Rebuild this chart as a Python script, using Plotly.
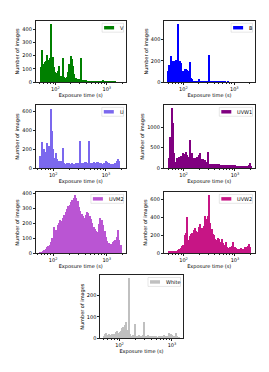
import numpy as np
import plotly.graph_objects as go

# ---------------- data ----------------
BIN_DEX = 0.025  # width of each log10 exposure-time bin

filter_names = ["V", "B", "U", "UVW1", "UVM2", "UVW2", "White"]
bar_colors = ["#008000", "#0000ff", "#7b68ee", "#800080", "#ba55d3", "#c71585", "#c0c0c0"]
log_start = [1.70, 1.69, 1.735, 1.70, 1.74, 1.70, 1.69]  # log10(s) of first bin edge

counts_v = [115, 240, 140, 150, 160, 205, 170, 180, 440, 190, 115, 75, 70, 85, 120, 50,
            45, 185, 40, 35, 38, 75, 140, 200, 175, 125, 60, 33, 28, 25, 22, 180, 18,
            15, 14, 20, 12, 13, 11, 12, 10, 12, 10, 11, 9, 10, 8, 9, 20, 7, 6,
            5, 6, 4, 5, 5, 3, 4, 3, 2, 2, 1, 2, 1]
counts_b = [110, 160, 250, 150, 200, 205, 210, 200, 550, 200, 180, 100, 110, 130, 125, 120,
            110, 190, 45, 30, 15, 15, 12, 14, 30, 12, 10, 11, 9, 8, 9, 10, 256, 8, 7,
            8, 6, 7, 5, 6, 5, 6, 4, 5, 4, 4, 3, 4, 3, 3, 2, 3, 2, 2, 3, 2, 2, 1, 2, 1, 2,
            1, 2, 1, 1, 1, 1]
counts_u = [130, 280, 165, 200, 170, 270, 220, 235, 632, 390, 200, 113, 165, 100, 78, 75,
            80, 220, 55, 50, 52, 48, 55, 50, 52, 48, 50, 55, 50, 52, 285, 55, 60, 58, 62,
            70, 60, 290, 58, 55, 60, 62, 58, 65, 70, 60, 55, 50, 55, 60, 75, 70, 55, 50,
            45, 48, 40, 55, 78, 100, 80]
counts_uvw1 = [245, 770, 1470, 1100, 365, 160, 245, 260, 285, 300, 290, 365, 340, 390, 320,
               285, 700, 300, 365, 245, 250, 240, 285, 320, 365, 230, 220, 210, 215, 160,
               410, 110, 105, 100, 110, 105, 100, 110, 95, 100, 90, 85, 80, 85, 80, 75, 80,
               85, 75, 80, 70, 75, 60, 55, 60, 55, 50, 55, 60, 50, 55, 60, 80, 140, 60]
counts_uvm2 = [7, 12, 15, 22, 30, 42, 48, 55, 75, 100, 175, 150, 160, 190, 205, 222, 215,
               235, 255, 275, 300, 315, 325, 345, 360, 375, 392, 370, 350, 310, 285, 265,
               250, 240, 260, 278, 270, 250, 230, 205, 180, 165, 150, 145, 200, 240, 225,
               190, 150, 110, 85, 70, 55, 65, 75, 85, 90, 110, 155, 90, 55]
counts_uvw2 = [22, 28, 25, 30, 25, 28, 30, 35, 52, 55, 85, 95, 200, 230, 410, 145, 190, 215,
               225, 255, 280, 250, 235, 290, 330, 280, 285, 310, 420, 380, 415, 650, 340,
               270, 220, 200, 165, 145, 175, 160, 125, 165, 110, 90, 125, 70, 60, 75, 70,
               80, 130, 75, 55, 50, 52, 48, 55, 50, 45, 70, 75, 85, 107, 70]
counts_white = [12, 18, 24, 15, 18, 14, 20, 16, 22, 28, 32, 25, 28, 36, 50, 55, 62, 76, 40,
                279, 20, 12, 14, 10, 65, 12, 10, 14, 12, 10, 15, 76, 12, 10, 14, 12, 9, 11,
                10, 12, 9, 8, 10, 12, 9, 10, 14, 12, 10, 12, 24, 20, 14, 12, 10, 26, 12, 8]

all_counts = [counts_v, counts_b, counts_u, counts_uvw1, counts_uvm2, counts_uvw2, counts_white]

y_tick_values = [[0, 100, 200, 300, 400], [0, 200, 400], [0, 200, 400, 600], [0, 500, 1000],
                 [0, 100, 200, 300, 400], [0, 200, 400, 600], [0, 100, 200]]
y_max = [462, 578, 670, 1545, 412, 684, 295]
x_tick_values = [100, 1000]
x_tick_text = ["10<sup>2</sup>", "10<sup>3</sup>"]
x_log_range = [(1.613, 3.374), (1.618, 3.408), (1.665, 3.38), (1.61, 3.39),
               (1.67, 3.36), (1.61, 3.39), (1.627, 3.21)]

# ---------------- layout geometry (pixels) ----------------
W, H = 269, 372
panel_px = [(35.5, 126, 20, 82), (164, 255, 20, 82), (35.5, 126, 105, 169),
            (163.5, 255, 105, 169), (35.5, 126, 193, 255), (163.5, 255, 193, 255),
            (100, 183, 277, 341)]
label_w = [3.4, 3.4, 3.7, 15.2, 14.6, 15.2, 14.5]

FONT = "DejaVu Sans"
FS = 5

minor_vals = [v * 10 ** e for e in (1, 2, 3) for v in range(2, 10)]

fig = go.Figure()
layout = {}
shapes = []
annotations = []

for k in range(7):
    sfx = "" if k == 0 else str(k + 1)
    xa, ya = "x" + sfx, "y" + sfx
    edges = 10 ** (log_start[k] + BIN_DEX * np.arange(len(all_counts[k]) + 1))
    centers = (edges[:-1] + edges[1:]) / 2
    widths = np.diff(edges)
    fig.add_trace(go.Bar(x=centers, y=all_counts[k], width=widths, name=filter_names[k],
                         marker=dict(color=bar_colors[k], line=dict(width=0)),
                         xaxis=xa, yaxis=ya, showlegend=False))
    x0, x1, t, b = panel_px[k]
    axis_common = dict(showline=True, mirror=True, linecolor="#222", linewidth=0.6,
                       showgrid=False, zeroline=False, ticks="outside", ticklen=1.8,
                       tickwidth=0.5, tickcolor="#222",
                       tickfont=dict(family=FONT, size=FS, color="black"))
    layout["xaxis" + sfx] = dict(
        axis_common, domain=[x0 / W, x1 / W], anchor=ya, type="log",
        range=list(x_log_range[k]), tickmode="array", tickvals=x_tick_values,
        ticktext=x_tick_text,
        minor=dict(tickmode="array", tickvals=minor_vals, ticks="outside", ticklen=1,
                   tickwidth=0.4, tickcolor="#222"),
        title=dict(text="Exposure time (s)", font=dict(family=FONT, size=FS, color="black"),
                   standoff=2))
    layout["yaxis" + sfx] = dict(
        axis_common, domain=[1 - b / H, 1 - t / H], anchor=xa, range=[0, y_max[k]],
        tickmode="array", tickvals=y_tick_values[k],
        title=dict(text="Number of images", font=dict(family=FONT, size=FS, color="black"),
                   standoff=2))

    # legend box (upper right)
    bw = 2 + 10 + 4 + label_w[k] + 2
    bh = 9
    bx1 = x1 - 2.5
    bx0 = bx1 - bw
    by0 = t + 2.5
    by1 = by0 + bh
    shapes.append(dict(type="rect", xref="paper", yref="paper",
                       x0=bx0 / W, x1=bx1 / W, y0=1 - by1 / H, y1=1 - by0 / H,
                       fillcolor="rgba(255,255,255,0.8)", line=dict(color="#cccccc", width=0.5)))
    cy = (by0 + by1) / 2
    shapes.append(dict(type="rect", xref="paper", yref="paper",
                       x0=(bx0 + 2) / W, x1=(bx0 + 12) / W,
                       y0=1 - (cy + 1.75) / H, y1=1 - (cy - 1.75) / H,
                       fillcolor=bar_colors[k], line=dict(width=0)))
    annotations.append(dict(text=filter_names[k], xref="paper", yref="paper",
                            x=(bx0 + 16) / W, y=1 - cy / H, xanchor="left", yanchor="middle",
                            showarrow=False, font=dict(family=FONT, size=FS, color="black")))

fig.update_layout(**layout)
fig.update_layout(width=W, height=H, autosize=False,
                  margin=dict(l=0, r=0, t=0, b=0, pad=0),
                  paper_bgcolor="white", plot_bgcolor="white",
                  shapes=shapes, annotations=annotations, bargap=0,
                  font=dict(family=FONT, size=FS, color="black"))

fig.write_html("out.html", include_plotlyjs=True, config={"displayModeBar": False},
               post_script="document.body.style.margin='0';")
